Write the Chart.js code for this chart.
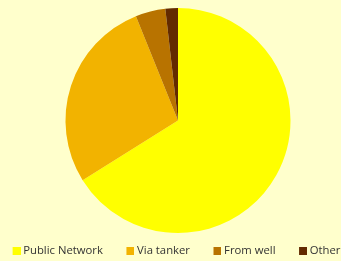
<!DOCTYPE html>
<html>
<head>
<meta charset="utf-8">
<script src="https://cdn.jsdelivr.net/npm/chart.js@4.4.0/dist/chart.umd.min.js"></script>
<style>
html,body{margin:0;padding:0;background:#FFFFCC;}
#wrap{width:341px;height:261px;}
</style>
</head>
<body>
<div id="wrap"><canvas id="c" width="341" height="261"></canvas></div>
<script>
const categories = ["Public Network", "Via tanker", "From well", "Other"];
const values = [66.1, 27.8, 4.3, 1.8];
const colors = ["#FFFF00", "#F2B300", "#B87300", "#632A00"];

// legend swatch: 8x8 square, drawn 3px to the right of a transparent strip
function swatch(color) {
  const cv = document.createElement('canvas');
  cv.width = 11; cv.height = 8;
  const g = cv.getContext('2d');
  g.fillStyle = color;
  g.fillRect(3, 0, 8, 8);
  return cv;
}

// keep the pie in its own area, independent of the legend box
const pieArea = {
  id: 'pieArea',
  afterLayout(chart) {
    const a = chart.chartArea;
    a.left = 15; a.right = 341; a.top = 8; a.bottom = 233;
    a.width = a.right - a.left; a.height = a.bottom - a.top;
  }
};

new Chart(document.getElementById('c'), {
  type: 'pie',
  data: {
    labels: categories,
    datasets: [{ data: values, backgroundColor: colors, borderWidth: 0 }]
  },
  options: {
    responsive: false,
    animation: false,
    layout: { padding: { top: 8, left: -19.5, right: -31.5, bottom: -5.75 } },
    plugins: {
      tooltip: { enabled: false },
      legend: {
        position: 'bottom',
        labels: {
          usePointStyle: true,
          boxWidth: 5, boxHeight: 8,
          padding: 23.5,
          color: '#333333',
          font: { family: "'Open Sans'", size: 11.3 },
          generateLabels(chart) {
            const items = Chart.controllers.pie.overrides.plugins.legend.labels.generateLabels(chart);
            items.forEach((it, i) => { it.pointStyle = swatch(colors[i]); });
            return items;
          }
        }
      }
    }
  },
  plugins: [pieArea]
});
</script>
</body>
</html>
